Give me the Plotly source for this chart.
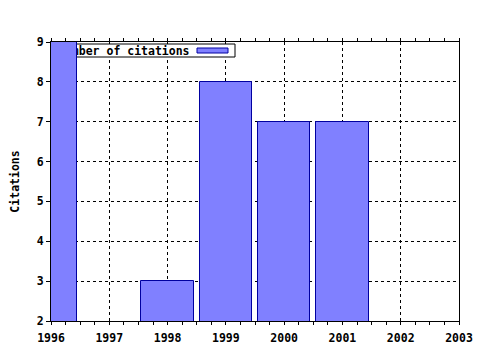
import plotly.graph_objects as go

years = [1996, 1998, 1999, 2000, 2001]
citations = [9, 3, 8, 7, 7]
x_ticks = [1996, 1997, 1998, 1999, 2000, 2001, 2002, 2003]
y_ticks = [2, 3, 4, 5, 6, 7, 8, 9]
series_name = "Number of citations"

FONT = dict(family="DejaVu Sans Mono", size=11.5, color="black", weight="bold")
BAR_FILL = "#8080FF"
BAR_EDGE = "#0000A0"

X_RANGE = [1996, 2003]
Y_RANGE = [2, 9]
L, R, T, B = 51, 21, 42, 29
PW, PH = 480 - L - R, 350 - T - B


def px_to_x(px):
    return X_RANGE[0] + (px - L) / PW * (X_RANGE[1] - X_RANGE[0])


def px_to_y(py):
    return Y_RANGE[0] + (350 - B - py) / PH * (Y_RANGE[1] - Y_RANGE[0])


fig = go.Figure()
fig.add_trace(go.Bar(
    x=years, y=citations, width=0.9,
    marker=dict(color=BAR_FILL, line=dict(color=BAR_EDGE, width=1)),
    name=series_name, showlegend=False,
))

# legend key drawn beneath the bars (gnuplot draws the key under the data)
fig.add_shape(type="rect", xref="x", yref="y",
              x0=px_to_x(52), x1=px_to_x(235), y0=px_to_y(57), y1=px_to_y(44),
              layer="between", fillcolor="white",
              line=dict(color="black", width=1),
              label=dict(text=series_name, textposition="middle left",
                         font=FONT, padding=3))
fig.add_shape(type="rect", xref="x", yref="y",
              x0=px_to_x(197), x1=px_to_x(228), y0=px_to_y(53), y1=px_to_y(48),
              layer="between", fillcolor=BAR_FILL,
              line=dict(color=BAR_EDGE, width=1))

fig.update_layout(
    width=480, height=350,
    margin=dict(l=L, r=R, t=T, b=B, autoexpand=False),
    paper_bgcolor="white", plot_bgcolor="white",
    font=FONT, showlegend=False, bargap=0,
)
fig.update_xaxes(
    range=X_RANGE, tickvals=x_ticks, ticktext=[str(v) for v in x_ticks],
    ticks="outside", ticklen=3, tickcolor="black", ticklabelstandoff=3,
    minor=dict(dtick=0.25, ticks="outside", ticklen=3, tickcolor="black", showgrid=False),
    showline=True, linecolor="black", linewidth=1, mirror="ticks",
    showgrid=True, gridcolor="black", griddash="dot", gridwidth=1,
    zeroline=False, tickfont=FONT, automargin=False,
)
fig.update_yaxes(
    range=Y_RANGE, tickvals=y_ticks, ticktext=[str(v) for v in y_ticks],
    ticks="outside", ticklen=4, tickcolor="black",
    showline=True, linecolor="black", linewidth=1, mirror=True,
    showgrid=True, gridcolor="black", griddash="dot", gridwidth=1,
    zeroline=False, tickfont=FONT, automargin=False,
    title=dict(text="Citations", font=FONT, standoff=14),
)

fig.write_html("out.html")
